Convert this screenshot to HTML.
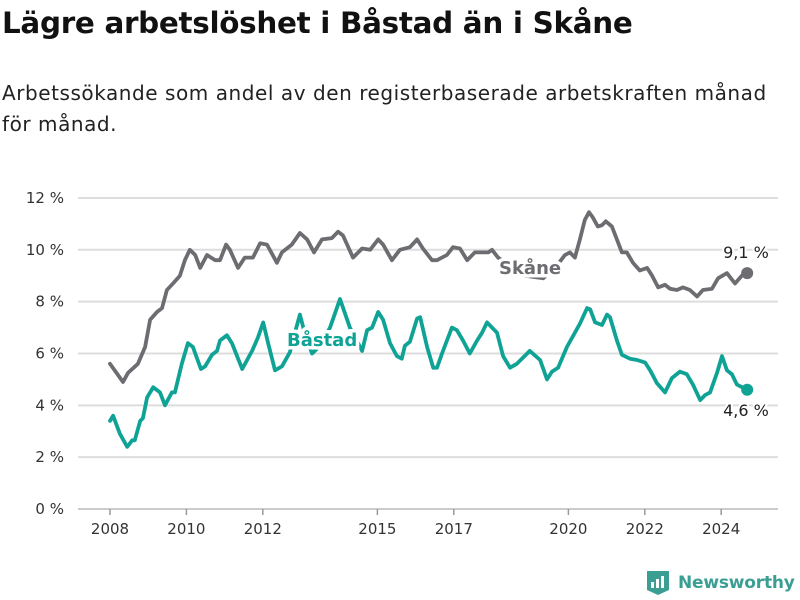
<!DOCTYPE html>
<html><head><meta charset="utf-8">
<style>
body{margin:0;width:800px;height:600px;background:#fff;font-family:"DejaVu Sans","Liberation Sans",sans-serif;overflow:hidden;position:relative}
#title{position:absolute;left:2px;top:6px;font-size:29.4px;font-weight:bold;color:#111;letter-spacing:-0.3px;margin:0}
#sub{position:absolute;left:2px;top:78px;font-size:20px;letter-spacing:0.55px;color:#222;line-height:31px;width:798px;white-space:nowrap}
svg{position:absolute;left:0;top:0}
#logo{position:absolute;left:646px;top:570px;display:flex;align-items:center;color:#3a9e93;font-size:17px;font-weight:bold;letter-spacing:-0.2px}
</style></head><body>
<h1 id="title">Lägre arbetslöshet i Båstad än i Skåne</h1>
<div id="sub">Arbetssökande som andel av den registerbaserade arbetskraften månad<br>för månad.</div>
<svg id="chart" width="800" height="600"></svg>
<div id="logo">
<svg style="position:static" width="24" height="26" viewBox="0 0 24 26"><path d="M1 1h22v19l-11 5-11-5z" fill="#3a9e93"/><rect x="5" y="12" width="3" height="6" fill="#fff"/><rect x="10" y="9" width="3" height="9" fill="#fff"/><rect x="15" y="6" width="3" height="12" fill="#fff"/></svg>
<span style="margin-left:8px">Newsworthy</span></div>
<script>
const skaneYears=[2008,2008.34,2008.47,2008.73,2008.92,2009.05,2009.23,2009.36,2009.49,2009.65,2009.83,2009.96,2010.09,2010.23,2010.36,2010.54,2010.75,2010.88,2011.04,2011.14,2011.35,2011.53,2011.74,2011.93,2012.11,2012.37,2012.5,2012.76,2012.97,2013.16,2013.34,2013.55,2013.81,2013.97,2014.1,2014.36,2014.6,2014.81,2015.02,2015.15,2015.38,2015.59,2015.85,2016.04,2016.19,2016.43,2016.56,2016.82,2016.98,2017.16,2017.35,2017.55,2017.9,2018,2018.16,2018.47,2018.86,2019.34,2019.65,2019.91,2020.04,2020.17,2020.3,2020.43,2020.54,2020.64,2020.77,2020.88,2020.98,2021.14,2021.27,2021.4,2021.53,2021.69,2021.87,2022.06,2022.19,2022.35,2022.53,2022.66,2022.84,2023,2023.18,2023.37,2023.52,2023.76,2023.92,2024.15,2024.36,2024.54,2024.68];
const skaneValues=[5.6,4.9,5.25,5.6,6.25,7.3,7.6,7.75,8.45,8.7,9.0,9.6,10.0,9.8,9.3,9.8,9.6,9.6,10.2,10.0,9.3,9.7,9.7,10.25,10.2,9.5,9.9,10.2,10.65,10.4,9.9,10.4,10.45,10.7,10.55,9.7,10.05,10.0,10.4,10.2,9.6,10.0,10.1,10.4,10.05,9.6,9.6,9.8,10.1,10.05,9.6,9.9,9.9,10.0,9.7,9.4,9.0,8.9,9.3,9.8,9.9,9.7,10.4,11.15,11.45,11.25,10.9,10.95,11.1,10.9,10.4,9.9,9.9,9.5,9.2,9.3,9.0,8.55,8.65,8.5,8.45,8.55,8.45,8.2,8.45,8.5,8.9,9.1,8.7,9.0,9.1];
const bastadYears=[2008,2008.08,2008.26,2008.45,2008.58,2008.65,2008.79,2008.86,2008.97,2009.13,2009.31,2009.44,2009.62,2009.7,2009.88,2010.04,2010.17,2010.38,2010.49,2010.67,2010.8,2010.88,2011.06,2011.19,2011.46,2011.72,2011.87,2012.01,2012.14,2012.32,2012.5,2012.71,2012.84,2012.97,2013.13,2013.29,2013.5,2013.76,2014.02,2014.28,2014.6,2014.73,2014.86,2015.02,2015.15,2015.33,2015.51,2015.64,2015.72,2015.85,2016.04,2016.12,2016.3,2016.46,2016.56,2016.69,2016.95,2017.08,2017.24,2017.42,2017.61,2017.74,2017.87,2018.13,2018.29,2018.47,2018.65,2018.99,2019.26,2019.44,2019.57,2019.73,2019.96,2020.17,2020.3,2020.49,2020.57,2020.7,2020.88,2021.01,2021.09,2021.27,2021.4,2021.61,2021.8,2022.01,2022.14,2022.32,2022.53,2022.71,2022.92,2023.1,2023.26,2023.45,2023.58,2023.71,2023.89,2024.02,2024.15,2024.28,2024.41,2024.68];
const bastadValues=[3.4,3.6,2.9,2.4,2.65,2.65,3.4,3.5,4.3,4.7,4.5,4.0,4.5,4.5,5.6,6.4,6.25,5.4,5.5,5.95,6.1,6.5,6.7,6.4,5.4,6.1,6.6,7.2,6.4,5.35,5.5,6.05,6.8,7.5,6.6,6.0,6.3,7.0,8.1,7.0,6.1,6.9,7.0,7.6,7.3,6.4,5.9,5.8,6.3,6.45,7.35,7.4,6.25,5.45,5.45,6.0,7.0,6.9,6.5,6.0,6.5,6.8,7.2,6.8,5.9,5.45,5.6,6.1,5.75,5.0,5.3,5.45,6.25,6.8,7.15,7.75,7.7,7.2,7.1,7.5,7.4,6.5,5.95,5.8,5.75,5.65,5.35,4.85,4.5,5.05,5.3,5.2,4.8,4.2,4.4,4.5,5.25,5.9,5.35,5.2,4.8,4.6];
const yTicks=[0,2,4,6,8,10,12];
const yTickLabels=["0 %","2 %","4 %","6 %","8 %","10 %","12 %"];
const xTicks=[2008,2010,2012,2015,2017,2020,2022,2024];
const xTickLabels=["2008","2010","2012","2015","2017","2020","2022","2024"];
const NS="http://www.w3.org/2000/svg";
const svg=document.getElementById('chart');
const X=y=>110+(y-2008)*38.2;
const Y=v=>509-v*25.92;
function mk(tag,attrs,parent){const e=document.createElementNS(NS,tag);for(const k in attrs)e.setAttribute(k,attrs[k]);(parent||svg).appendChild(e);return e;}
yTicks.forEach((t,i)=>{
 const l=mk('line',{x1:78,x2:778,y1:Y(t),y2:Y(t),stroke:t===0?'#bbb':'#ddd','stroke-width':t===0?1.5:2});
 
 
 const tx=mk('text',{x:64,y:Y(t)+5,'text-anchor':'end','font-size':15,fill:'#333'});
 tx.textContent=yTickLabels[i];
 
 
});
xTicks.forEach((t,i)=>{
 const l=mk('line',{x1:X(t),x2:X(t),y1:509,y2:515,stroke:'#999','stroke-width':1.5});
 
 
 const tx=mk('text',{x:X(t),y:534,'text-anchor':'middle','font-size':15,fill:'#333'});
 tx.textContent=xTickLabels[i];
 
 
});
function series(xs,vs,color,name){
 const d=xs.map((x,i)=>(i?'L':'M')+X(x).toFixed(1)+','+Y(vs[i]).toFixed(1)).join('');
 const p=mk('path',{d:d,fill:'none',stroke:color,'stroke-width':3.8,'stroke-linejoin':'round','stroke-linecap':'round'});
 
 
 const n=xs.length-1;
 const c=mk('circle',{cx:X(xs[n]),cy:Y(vs[n]),r:6,fill:color});
 
 
}
series(skaneYears,skaneValues,'#6d6c71','skane');
series(bastadYears,bastadValues,'#0fa396','bastad');
function lbl(txt,x,y,color,bold,name,anchor){
 const t=mk('text',{x:x,y:y,'font-size':bold?18:16,'font-weight':bold?'bold':'normal',fill:color,stroke:'#fff','stroke-width':bold?7:4,'paint-order':'stroke','text-anchor':anchor||'start'});
 t.textContent=txt;
 
 
}
lbl('Skåne',499,274,'#6d6c71',true,'skane-label');
lbl('Båstad',287,346,'#0fa396',true,'bastad-label');
lbl('9,1 %',746,258,'#222',false,'skane-end-value','middle');
lbl('4,6 %',746,416,'#222',false,'bastad-end-value','middle');
</script>
</body></html>
